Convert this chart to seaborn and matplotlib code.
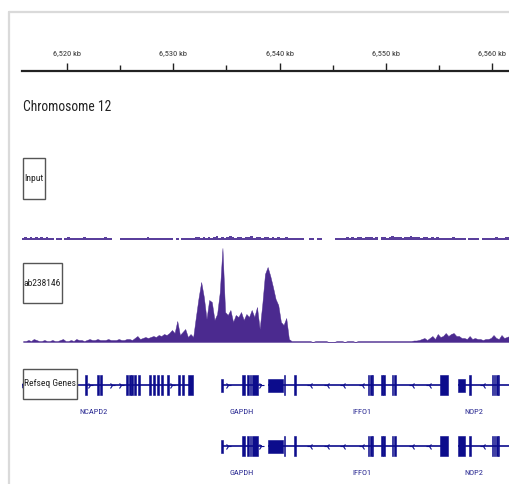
import numpy as np
import pandas as pd
import matplotlib
matplotlib.use('Agg')
import matplotlib.pyplot as plt
from matplotlib import font_manager
from matplotlib.patches import Rectangle
import seaborn as sns

# --- data -----------------------------------------------------------------
# genome browser view, chr12, positions in kb
VIEW_KB = (6515.77, 6561.58)
TICK_KB = [6520, 6530, 6540, 6550, 6560]
TICK_LABELS = ["6,520 kb", "6,530 kb", "6,540 kb", "6,550 kb", "6,560 kb"]
MINOR_KB = [6525, 6535, 6545, 6555]

# coverage bins: 0.25 kb each, starting at 6515.75 kb
BIN_START = 6515.75
BIN_KB = 0.25

chip_signal = [
    1, 1, 2, 1, 3, 2, 1, 1, 2, 1,
    1, 2, 1, 1, 2, 3, 1, 1, 2, 1,
    3, 2, 2, 1, 2, 3, 2, 2, 3, 2,
    2, 2, 3, 2, 2, 2, 3, 2, 2, 3,
    3, 2, 4, 6, 3, 4, 5, 4, 5, 6,
    5, 7, 6, 8, 7, 9, 12, 9, 21, 7,
    10, 13, 5, 8, 5, 25, 44, 60, 45, 23,
    42, 40, 22, 28, 50, 94, 30, 27, 32, 20,
    27, 25, 30, 22, 28, 25, 32, 25, 35, 13,
    38, 68, 75, 66, 55, 43, 37, 20, 17, 24,
    3, 1, 1, 1, 1, 1, 1, 1, 1, 0,
    1, 1, 1, 1, 1, 0, 0, 0, 1, 1,
    1, 0, 1, 1, 1, 0, 1, 1, 1, 1,
    1, 1, 1, 1, 1, 1, 1, 1, 1, 1,
    1, 1, 1, 1, 1, 1, 1, 1.5, 1.5, 2,
    3, 4, 2, 4, 6, 3, 8, 5, 6, 9,
    6, 8, 9, 6, 6, 4, 4, 3, 6, 3,
    4, 3, 3, 2, 3, 3, 4, 7, 4, 3,
    7, 4, 5, 6,
]

input_signal = [
    1.5, 2, 1.5, 2.5, 1.5, 2, 1.5, 2, 1.5, 2.5,
    1.5, 1.5, 0, 1.5, 1.5, 0, 1.5, 2, 1.5, 1.5,
    1.5, 1.5, 1.5, 2, 1.5, 1.5, 1.5, 1.5, 1.5, 1.5,
    1.5, 2, 1.5, 1.5, 0, 0, 0, 1.5, 1.5, 1.5,
    1.5, 1.5, 1.5, 1.5, 1.5, 1.5, 1.5, 2, 1.5, 1.5,
    1.5, 1.5, 1.5, 1.5, 1.5, 1.5, 1.5, 0, 1.5, 0,
    1.5, 1.5, 1.5, 1.5, 1.5, 2, 2.5, 1.5, 2, 1.5,
    2.5, 1.5, 2, 3, 1.5, 2, 1.5, 2.5, 3, 2,
    1.5, 2.5, 2, 1.5, 2.5, 2, 3, 1.5, 2, 2.5,
    1.5, 2, 2.5, 1.5, 2, 1.5, 2, 1.5, 1.5, 2,
    1.5, 1.5, 1.5, 1.5, 1.5, 1.5, 0, 0, 1.5, 1.5,
    0, 1.5, 1.5, 0, 0, 0, 0, 0, 1.5, 1.5,
    1.5, 1.5, 2, 1.5, 2, 1.5, 2, 2.5, 1.5, 2,
    2.5, 2, 1.5, 2.5, 0, 2, 2.5, 1.5, 2, 3,
    2, 2.5, 2, 1.5, 2.5, 2, 3, 2, 2.5, 2,
    1.5, 2.5, 2, 1.5, 2, 1.5, 2, 1.5, 1.5, 1.5,
    1.5, 1.5, 2, 1.5, 1.5, 1.5, 1.5, 0, 1.5, 1.5,
    1.5, 1.5, 0, 1.5, 1.5, 1.5, 1.5, 1.5, 2, 1.5,
    1.5, 1.5, 2, 2,
]

# refseq genes: exons as (start kb, end kb, kind) - 'c' coding, 'u' utr
ncapd2_span = (6515.50, 6531.86)
ncapd2_exons = [(6521.72, 6521.89, 'c'), (6522.84, 6523.00, 'c'), (6523.12, 6523.28, 'c'),
                (6525.58, 6525.74, 'c'), (6525.86, 6526.02, 'c'), (6526.05, 6526.21, 'c'),
                (6526.33, 6526.49, 'c'), (6526.71, 6526.87, 'c'), (6527.74, 6527.90, 'c'),
                (6528.12, 6528.28, 'c'), (6528.49, 6528.65, 'c'), (6528.87, 6529.03, 'c'),
                (6529.43, 6529.59, 'c'), (6530.47, 6530.63, 'c'), (6530.85, 6531.01, 'c'),
                (6531.39, 6531.86, 'c')]
ncapd2_arrows = [6515.85, 6522.17, 6524.24, 6525.08, 6529.88]

gapdh_span = (6534.58, 6538.35)
gapdh_exons = [(6534.53, 6534.68, 'u'), (6536.47, 6536.75, 'c'), (6536.92, 6537.08, 'c'),
               (6537.18, 6537.33, 'c'), (6537.41, 6537.97, 'c')]
gapdh_arrows = [6535.15, 6538.25]

iffo1_span = (6538.91, 6555.85)
iffo1_exons = [(6538.91, 6540.33, 'u'), (6540.39, 6540.55, 'c'), (6541.38, 6541.54, 'c'),
               (6548.28, 6548.43, 'c'), (6548.50, 6548.65, 'c'), (6548.66, 6548.80, 'c'),
               (6549.54, 6549.69, 'c'), (6549.75, 6549.90, 'c'), (6550.54, 6550.69, 'c'),
               (6550.79, 6550.94, 'c'), (6555.05, 6555.80, 'c')]
iffo1_arrows = [6542.86, 6544.46, 6545.97, 6547.73, 6552.45, 6554.02]

nop2_span = (6556.79, 6562.50)
nop2_exons_a = [(6556.79, 6557.45, 'u'), (6557.84, 6558.00, 'c'), (6559.94, 6560.09, 'c'),
                (6560.13, 6560.28, 'c'), (6560.36, 6560.51, 'c'), (6560.53, 6560.67, 'c')]
nop2_exons_b = [(6556.79, 6557.45, 'c'), (6557.84, 6558.00, 'c'), (6559.94, 6560.09, 'c'),
                (6560.13, 6560.28, 'c'), (6560.36, 6560.51, 'c'), (6560.53, 6560.67, 'c')]
nop2_arrows = [6559.14]

# --- figure ---------------------------------------------------------------
W, H = 509, 484
CHIP_COLOR = '#4b2a8f'
INPUT_COLOR = '#5a3f9c'
GENE_COLOR = '#0c0c8c'
TEXT_COLOR = '#333333'

sns.set_theme(style='white')
available = {f.name for f in font_manager.fontManager.ttflist}
narrow = next((n for n in ['Liberation Sans Narrow', 'DejaVu Sans Condensed', 'Roboto Condensed']
               if n in available), 'Liberation Sans')
plt.rcParams['font.family'] = [narrow, 'DejaVu Sans']

fig = plt.figure(figsize=(W / 100, H / 100), dpi=100)
fig.patch.set_facecolor('white')


def px_axes(x0, y0, x1, y1):
    """axes placed by pixel box (y from top)"""
    return fig.add_axes([x0 / W, 1 - y1 / H, (x1 - x0) / W, (y1 - y0) / H])


# ruler
ax_r = px_axes(22, 71, 509, 80)
ax_r.set_xlim(*VIEW_KB)
ax_r.set_ylim(0, 1)
for s in ['left', 'right', 'bottom']:
    ax_r.spines[s].set_visible(False)
ax_r.spines['top'].set_color('#222222')
ax_r.spines['top'].set_linewidth(1.6)
ax_r.set_facecolor('none')
ax_r.xaxis.tick_top()
ax_r.set_xticks(TICK_KB)
ax_r.set_xticklabels(TICK_LABELS)
ax_r.set_xticks(MINOR_KB, minor=True)
ax_r.tick_params(axis='x', which='major', direction='out', length=6, width=1,
                 color='#222222', labelsize=6.0, labelcolor=TEXT_COLOR, pad=5)
ax_r.tick_params(axis='x', which='minor', direction='out', length=4, width=1, color='#222222')
ax_r.set_yticks([])

edges = (BIN_START + BIN_KB * np.arange(len(chip_signal) + 1)).tolist()
tracks = pd.DataFrame({
    'pos': [e + BIN_KB / 2 for e in edges[:-1]],
    'chip': chip_signal,
    'input': input_signal,
})

# input track
ax_i = px_axes(22, 200, 509, 240)
sns.histplot(data=tracks, x='pos', weights='input', bins=edges, element='step', fill=True,
             color=INPUT_COLOR, alpha=1, linewidth=0, ax=ax_i)
ax_i.set_xlim(*VIEW_KB)
ax_i.set_ylim(0, 30)
ax_i.set_axis_off()

# chip track
ax_c = px_axes(22, 245, 509, 342)
sns.histplot(data=tracks, x='pos', weights='chip', bins=edges, element='poly', fill=True,
             color=CHIP_COLOR, alpha=1, linewidth=0.3, edgecolor=CHIP_COLOR, ax=ax_c)
ax_c.set_xlim(*VIEW_KB)
ax_c.set_ylim(0, 97)
ax_c.set_axis_off()

# gene track (y in pixel rows)
ax_g = px_axes(22, 360, 509, 484)
ax_g.set_xlim(*VIEW_KB)
ax_g.set_ylim(484, 360)
ax_g.set_axis_off()
ROWS = [385, 446]
EXON_H = {'c': 20, 'u': 13}


def draw_gene(row_y, span, exons, arrows, strand, label, label_kb):
    ax_g.plot(span, [row_y, row_y], color=GENE_COLOR, lw=1.2, solid_capstyle='butt')
    for s, e, kind in exons:
        h = EXON_H[kind]
        ax_g.add_patch(Rectangle((s, row_y - h / 2), e - s, h, facecolor=GENE_COLOR,
                                 edgecolor=GENE_COLOR, linewidth=0.4))
    ax_g.plot(arrows, [row_y] * len(arrows), linestyle='none',
              marker='4' if strand == '+' else '3', markersize=4.5,
              markeredgewidth=0.8, color=GENE_COLOR)
    ax_g.text(label_kb, row_y + 27, label, ha='center', va='center',
              fontsize=6.0, color='#2a2a92')


draw_gene(ROWS[0], ncapd2_span, ncapd2_exons, ncapd2_arrows, '+', 'NCAPD2', 6522.45)
for r, nop2_ex in zip(ROWS, [nop2_exons_a, nop2_exons_b]):
    draw_gene(r, gapdh_span, gapdh_exons, gapdh_arrows, '+', 'GAPDH', 6536.47)
    draw_gene(r, iffo1_span, iffo1_exons, iffo1_arrows, '-', 'IFFO1', 6547.75)
    draw_gene(r, nop2_span, nop2_ex, nop2_arrows, '-', 'NOP2', 6558.24)

# overlay: frame, title, track name boxes
ov = fig.add_axes([0, 0, 1, 1])
ov.set_xlim(0, W)
ov.set_ylim(H, 0)
ov.set_axis_off()
ov.set_facecolor('none')
ov.plot([9, W], [12, 12], color='#dadada', lw=1.6)
ov.plot([9, 9], [12, H], color='#dadada', lw=1.6)
ov.text(23, 107, 'Chromosome 12', ha='left', va='center', fontsize=9.8, color='#222222')

boxes = [('Input', 23, 158, 45, 199), ('ab238146', 23, 263, 62, 303),
         ('Refseq Genes', 23, 369, 77, 399)]
for name, x0, y0, x1, y1 in boxes:
    ov.add_patch(Rectangle((x0, y0), x1 - x0, y1 - y0, facecolor='white',
                           edgecolor='#555555', linewidth=1.0, zorder=5))
    ov.text((x0 + x1) / 2, (y0 + y1) / 2, name, ha='center', va='center',
            fontsize=6.8, color='#222222', zorder=6)

fig.savefig('out.png', dpi=100)
